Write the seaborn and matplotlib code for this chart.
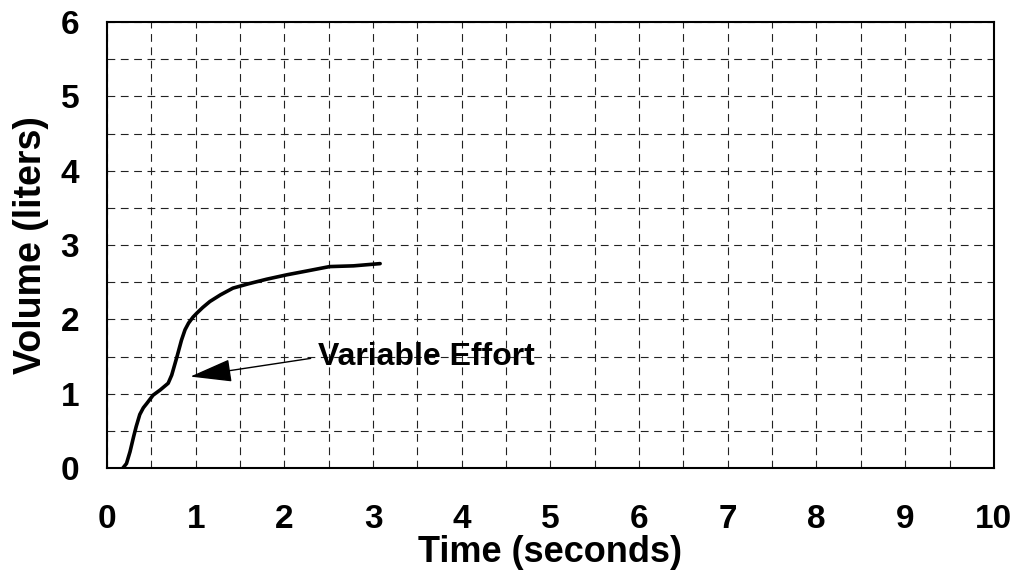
import numpy as np
import pandas as pd
import seaborn as sns
import matplotlib.pyplot as plt
from matplotlib.ticker import MultipleLocator

sns.set_style("white")
plt.rcParams['font.family'] = ['Liberation Sans', 'DejaVu Sans']
plt.rcParams['font.weight'] = 'bold'
plt.rcParams['text.color'] = 'black'
plt.rcParams['axes.labelcolor'] = 'black'
plt.rcParams['xtick.color'] = 'black'
plt.rcParams['ytick.color'] = 'black'

# %% Data

time_s = [0.18, 0.22, 0.26, 0.30, 0.33, 0.37, 0.41, 0.45, 0.52, 0.60, 0.69,
          0.73, 0.79, 0.84, 0.88, 0.92, 0.97, 1.01, 1.08, 1.16, 1.28, 1.42,
          1.60, 1.80, 2.03, 2.25, 2.51, 2.78, 3.08]
volume_l = [0.00, 0.06, 0.22, 0.42, 0.56, 0.72, 0.81, 0.87, 0.98, 1.05, 1.14,
            1.25, 1.50, 1.72, 1.86, 1.95, 2.03, 2.08, 2.16, 2.24, 2.33, 2.42,
            2.48, 2.54, 2.60, 2.65, 2.71, 2.72, 2.75]

curve = pd.DataFrame({'Time': time_s, 'Volume': volume_l})

annot_label = 'Variable Effort'
annot_tip = (0.94, 1.23)
annot_text = (2.38, 1.49)

# %% Plot

fig = plt.figure(figsize=(10.13, 5.81), dpi=100)
ax = fig.add_axes([0.1056, 0.1945, 0.8755, 0.7675])

sns.lineplot(data=curve, x='Time', y='Volume', color='black', linewidth=2.6,
             sort=False, estimator=None, ax=ax)

ax.set_xlim(0, 10)
ax.set_ylim(0, 6)
ax.xaxis.set_major_locator(MultipleLocator(1))
ax.xaxis.set_minor_locator(MultipleLocator(0.5))
ax.yaxis.set_major_locator(MultipleLocator(1))
ax.yaxis.set_minor_locator(MultipleLocator(0.5))

ax.grid(True, which='both', color='#222222', linewidth=0.8, linestyle=(0, (7, 5)))
ax.set_axisbelow(True)

for s in ax.spines.values():
    s.set_visible(True)
    s.set_color('black')
    s.set_linewidth(1.5)

ax.tick_params(which='major', direction='inout', length=12, width=1, labelsize=24)
ax.tick_params(which='minor', direction='inout', length=5, width=1)
ax.tick_params(axis='x', which='major', pad=20)
ax.tick_params(axis='y', which='major', pad=14)

ax.set_xlabel('Time (seconds)', fontsize=26, fontweight='bold', labelpad=0)
ax.set_ylabel('Volume (liters)', fontsize=27, fontweight='bold', labelpad=8)

ax.annotate(annot_label, xy=annot_tip, xytext=annot_text,
            fontsize=23, fontweight='bold', ha='left', va='center',
            arrowprops=dict(arrowstyle='-|>,head_length=1.1,head_width=0.3',
                            mutation_scale=24, lw=1, color='black',
                            relpos=(0, 0.5), shrinkA=3, shrinkB=0))

plt.savefig('out.png', dpi=100)
